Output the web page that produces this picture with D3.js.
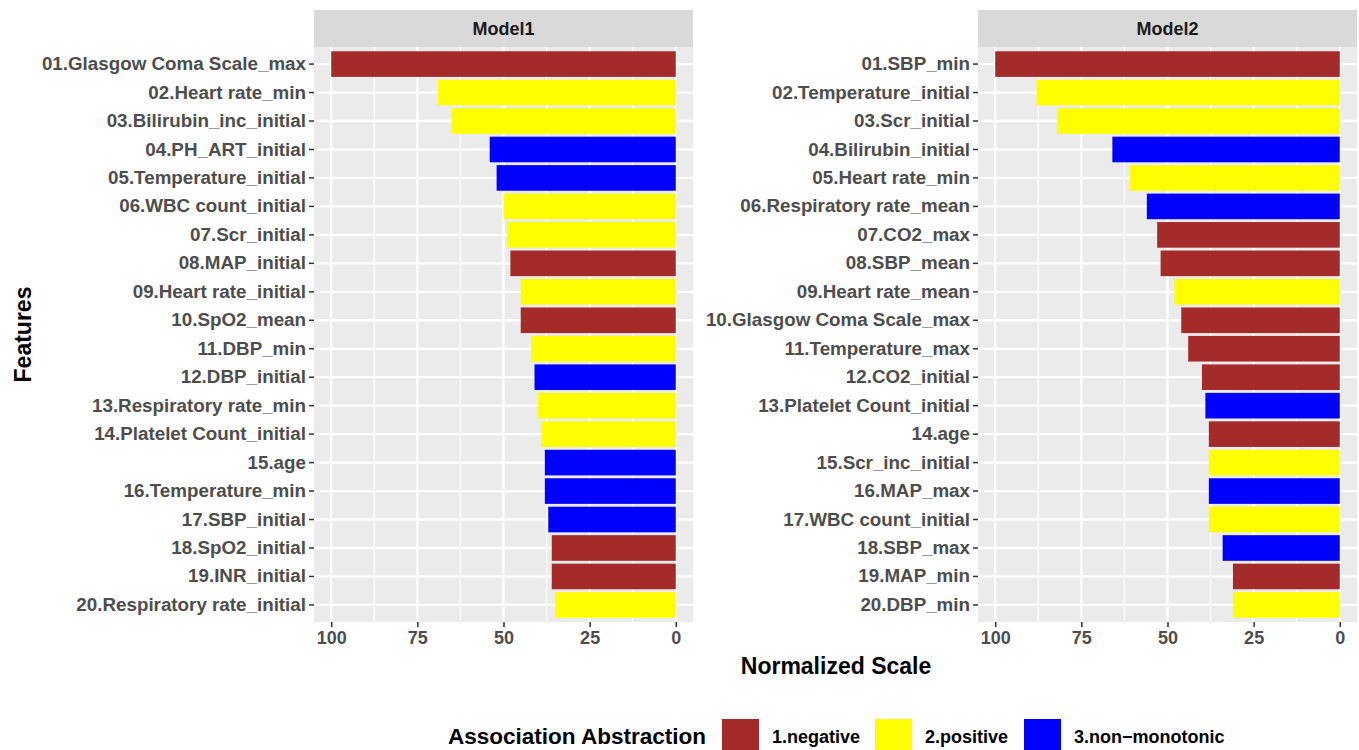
<!DOCTYPE html>
<html>
<head>
<meta charset="utf-8">
<script src="https://cdn.jsdelivr.net/npm/d3@7"></script>
<style>
  body { margin: 0; background: #fff; }
  text { font-family: "Liberation Sans", Arial, sans-serif; font-weight: bold; }
</style>
</head>
<body>
<div id="chart"></div>
<script>
// Model1
var m1Features = ["01.Glasgow Coma Scale_max", "02.Heart rate_min", "03.Bilirubin_inc_initial", "04.PH_ART_initial",
  "05.Temperature_initial", "06.WBC count_initial", "07.Scr_initial", "08.MAP_initial", "09.Heart rate_initial",
  "10.SpO2_mean", "11.DBP_min", "12.DBP_initial", "13.Respiratory rate_min", "14.Platelet Count_initial",
  "15.age", "16.Temperature_min", "17.SBP_initial", "18.SpO2_initial", "19.INR_initial", "20.Respiratory rate_initial"];
var m1Values = [100, 69, 65, 54, 52, 50, 49, 48, 45, 45, 42, 41, 40, 39, 38, 38, 37, 36, 36, 35];
var m1Assoc = [1, 2, 2, 3, 3, 2, 2, 1, 2, 1, 2, 3, 2, 2, 3, 3, 3, 1, 1, 2];

// Model2
var m2Features = ["01.SBP_min", "02.Temperature_initial", "03.Scr_initial", "04.Bilirubin_initial", "05.Heart rate_min",
  "06.Respiratory rate_mean", "07.CO2_max", "08.SBP_mean", "09.Heart rate_mean", "10.Glasgow Coma Scale_max",
  "11.Temperature_max", "12.CO2_initial", "13.Platelet Count_initial", "14.age", "15.Scr_inc_initial",
  "16.MAP_max", "17.WBC count_initial", "18.SBP_max", "19.MAP_min", "20.DBP_min"];
var m2Values = [100, 88, 82, 66, 61, 56, 53, 52, 48, 46, 44, 40, 39, 38, 38, 38, 38, 34, 31, 31];
var m2Assoc = [1, 2, 2, 3, 2, 3, 1, 1, 2, 1, 1, 1, 3, 1, 2, 3, 2, 3, 1, 2];

var assocNames = ["1.negative", "2.positive", "3.non\u2212monotonic"];
var assocColors = ["#A52A2A", "#FFFF00", "#0000FF"];
var xTicks = [100, 75, 50, 25, 0];

var width = 1359, height = 750;
var svg = d3.select("#chart").append("svg")
  .attr("width", width)
  .attr("height", height);

var color = d3.scaleOrdinal().domain([1, 2, 3]).range(assocColors);

var panelTop = 47, panelBottom = 622, stripTop = 10;

function drawPanel(name, features, values, assoc, x0, x1) {
  var rows = features.map(function (f, i) {
    return { f: f, v: values[i], a: assoc[i] };
  });

  // ggplot style expansion: 5% on the continuous axis, 0.6 on the discrete one
  var x = d3.scaleLinear().domain([105, -5]).range([x0, x1]);
  var step = (panelBottom - panelTop) / (features.length + 0.2);
  var y = d3.scaleBand().domain(features)
    .range([panelTop + 0.1 * step, panelBottom - 0.1 * step]);

  var g = svg.append("g");

  // strip
  g.append("rect")
    .attr("x", x0).attr("y", stripTop)
    .attr("width", x1 - x0).attr("height", panelTop - stripTop)
    .attr("fill", "#D9D9D9");
  g.append("text")
    .attr("x", (x0 + x1) / 2).attr("y", (stripTop + panelTop) / 2)
    .attr("dy", "0.36em")
    .attr("text-anchor", "middle")
    .attr("font-size", 18)
    .attr("fill", "#1A1A1A")
    .text(name);

  // panel background
  g.append("rect")
    .attr("x", x0).attr("y", panelTop)
    .attr("width", x1 - x0).attr("height", panelBottom - panelTop)
    .attr("fill", "#EBEBEB");

  // minor grid
  var minor = [87.5, 62.5, 37.5, 12.5];
  g.selectAll(".minor").data(minor).enter().append("line")
    .attr("x1", function (d) { return x(d); })
    .attr("x2", function (d) { return x(d); })
    .attr("y1", panelTop).attr("y2", panelBottom)
    .attr("stroke", "#fff").attr("stroke-width", 1.2);

  // major grid
  g.selectAll(".major").data(xTicks).enter().append("line")
    .attr("x1", function (d) { return x(d); })
    .attr("x2", function (d) { return x(d); })
    .attr("y1", panelTop).attr("y2", panelBottom)
    .attr("stroke", "#fff").attr("stroke-width", 2.3);

  g.selectAll(".hgrid").data(features).enter().append("line")
    .attr("x1", x0).attr("x2", x1)
    .attr("y1", function (d) { return y(d) + y.bandwidth() / 2; })
    .attr("y2", function (d) { return y(d) + y.bandwidth() / 2; })
    .attr("stroke", "#fff").attr("stroke-width", 2.3);

  // bars
  var bw = y.bandwidth() * 0.9;
  g.selectAll(".bar").data(rows).enter().append("rect")
    .attr("x", function (d) { return x(d.v); })
    .attr("width", function (d) { return x(0) - x(d.v); })
    .attr("y", function (d) { return y(d.f) + (y.bandwidth() - bw) / 2; })
    .attr("height", bw)
    .attr("fill", function (d) { return color(d.a); });

  // y axis
  var yAxis = d3.axisLeft(y).tickSize(5).tickPadding(3);
  var ya = g.append("g").attr("transform", "translate(" + x0 + ",0)").call(yAxis);
  ya.select(".domain").remove();
  ya.selectAll("line").attr("stroke", "#333").attr("stroke-width", 1.5);
  ya.selectAll("text").attr("font-size", 18.8).attr("fill", "#4D4D4D")
    .attr("font-family", "'Liberation Sans', Arial, sans-serif");

  // x axis
  var xAxis = d3.axisBottom(x).tickValues(xTicks).tickSize(5).tickPadding(4);
  var xa = g.append("g").attr("transform", "translate(0," + panelBottom + ")").call(xAxis);
  xa.select(".domain").remove();
  xa.selectAll("line").attr("stroke", "#333").attr("stroke-width", 1.5);
  xa.selectAll("text").attr("font-size", 18).attr("fill", "#4D4D4D")
    .attr("font-family", "'Liberation Sans', Arial, sans-serif");
}

drawPanel("Model1", m1Features, m1Values, m1Assoc, 314, 693);
drawPanel("Model2", m2Features, m2Values, m2Assoc, 978, 1357);

// axis titles
svg.append("text")
  .attr("transform", "translate(31," + ((panelTop + panelBottom) / 2) + ") rotate(-90)")
  .attr("text-anchor", "middle")
  .attr("font-size", 23)
  .attr("fill", "#000")
  .text("Features");

svg.append("text")
  .attr("x", 836).attr("y", 674)
  .attr("text-anchor", "middle")
  .attr("font-size", 23)
  .attr("fill", "#000")
  .text("Normalized Scale");

// legend
var legend = svg.append("g");
legend.append("text")
  .attr("x", 448).attr("y", 744)
  .attr("font-size", 22.5)
  .attr("fill", "#000")
  .text("Association Abstraction");

var keyX = [722, 875, 1024];
assocNames.forEach(function (n, i) {
  legend.append("rect")
    .attr("x", keyX[i]).attr("y", 719)
    .attr("width", 37).attr("height", 37)
    .attr("fill", assocColors[i]);
  legend.append("text")
    .attr("x", keyX[i] + 50).attr("y", 743)
    .attr("font-size", 18)
    .attr("fill", "#000")
    .text(n);
});
</script>
</body>
</html>
